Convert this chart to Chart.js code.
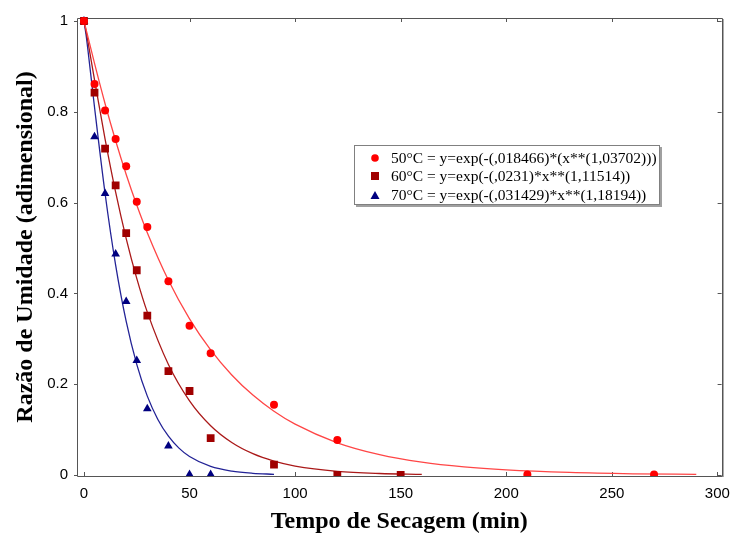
<!DOCTYPE html>
<html><head><meta charset="utf-8">
<script src="https://cdn.jsdelivr.net/npm/chart.js@4/dist/chart.umd.min.js"></script>
<style>
html,body{margin:0;padding:0;background:#fff;}
#wrap{position:relative;width:739px;height:536px;}
#legend{position:absolute;left:354px;top:145px;width:304px;height:58px;border:1px solid #808080;box-shadow:2px 2px 0 #a0a0a0;background:#fff;font-family:'Liberation Serif','Times New Roman',serif;font-size:15.5px;color:#000;}
.row{position:absolute;left:0;height:18px;line-height:18px;white-space:nowrap;}
.row svg{position:absolute;left:15px;top:4px;}
.row span{position:absolute;left:36px;top:0;}
</style></head>
<body>
<div id="wrap">
<canvas id="c" width="739" height="536"></canvas>
<div id="legend">
  <div class="row" style="top:3px"><svg width="10" height="10"><circle cx="5" cy="5" r="3.8" fill="#ff0000"/></svg><span>50°C = y=exp(-(,018466)*(x**(1,03702)))</span></div>
  <div class="row" style="top:21px"><svg width="10" height="10"><rect x="1" y="1" width="8" height="8" fill="#a00000"/></svg><span>60°C = y=exp(-(,0231)*x**(1,11514))</span></div>
  <div class="row" style="top:40px"><svg width="10" height="10"><polygon points="5,1 9.5,9 0.5,9" fill="#000080"/></svg><span>70°C = y=exp(-(,031429)*x**(1,18194))</span></div>
</div>
</div>
<script>
// Observed data (time in min, moisture ratio)
const t50 = [0,5,10,15,20,25,30,40,50,60,90,120,210,270];
const mr50 = [1,0.861,0.803,0.740,0.680,0.602,0.546,0.427,0.329,0.268,0.155,0.077,0.001,0.001];
const t60 = [0,5,10,15,20,25,30,40,50,60,90,120,150];
const mr60 = [1,0.842,0.719,0.638,0.533,0.451,0.351,0.229,0.185,0.081,0.023,0.0005,0.0005];
const t70 = [0,5,10,15,20,25,30,40,50,60];
const mr70 = [1,0.745,0.620,0.487,0.382,0.252,0.146,0.064,0.001,0.001];

// Fitted curves (sampled values)
const fitT50 = [0,1,2,5,10,15,20,25,30,40,50,60,70,80,90,100,120,140,160,180,200,230,260,290];
const fit50 = [1,0.9817,0.9628,0.9066,0.8178,0.7362,0.6619,0.5945,0.5335,0.4288,0.3440,0.2755,0.2203,0.1760,0.1404,0.1119,0.0710,0.0449,0.0283,0.0178,0.0112,0.0056,0.0027,0.0014];
const fitT60 = [0,1,2,5,10,15,20,25,30,40,50,60,70,80,90,100,120,140,160];
const fit60 = [1,0.9772,0.9512,0.8702,0.7400,0.6229,0.5208,0.4332,0.3587,0.2434,0.1633,0.1085,0.0716,0.0469,0.0305,0.0197,0.0081,0.0033,0.0013];
const fitT70 = [0,1,2,5,10,15,20,25,30,35,40,45,50,60,70,80,90];
const fit70 = [1,0.9691,0.9312,0.8101,0.6201,0.4623,0.3382,0.2438,0.1737,0.1224,0.0855,0.0592,0.0407,0.0188,0.0085,0.0038,0.0016];

// Ticks
const xTicks = [0,50,100,150,200,250,300];
const xTickLabels = ['0','50','100','150','200','250','300'];
const yTicks = [0,0.2,0.4,0.6,0.8,1];
const yTickLabels = ['0','0.2','0.4','0.6','0.8','1'];

const pts = (xs, ys) => xs.map((x,i)=>({x:x, y:ys[i]}));

const frame = {
  id:'frame',
  beforeDatasetsDraw(chart){
    const {ctx, chartArea:a, scales:{x,y}} = chart;
    ctx.save();
    ctx.strokeStyle='#555'; ctx.lineWidth=1;
    ctx.beginPath();
    ctx.rect(Math.round(a.left)+0.5, Math.round(a.top)+0.5, Math.round(a.right-a.left), Math.round(a.bottom-a.top));
    xTicks.forEach(v=>{
      const px=Math.round(x.getPixelForValue(v))+0.5;
      ctx.moveTo(px,a.bottom); ctx.lineTo(px,a.bottom-4);
      ctx.moveTo(px,a.top); ctx.lineTo(px,a.top+4);
    });
    yTicks.forEach(v=>{
      const py=Math.round(y.getPixelForValue(v))+0.5;
      ctx.moveTo(a.left-3,py); ctx.lineTo(a.left,py);
      ctx.moveTo(a.right,py); ctx.lineTo(a.right-4,py);
    });
    ctx.stroke();
    ctx.strokeStyle='#aaa';
    ctx.beginPath();
    ctx.moveTo(Math.round(a.right)+1.5, a.top+1); ctx.lineTo(Math.round(a.right)+1.5, a.bottom+1);
    ctx.stroke();
    ctx.restore();
  }
};

const lineDs = (xs, ys, color) => ({
  type:'line', data: pts(xs, ys), borderColor: color, borderWidth: 1.3,
  pointRadius: 0, fill:false, cubicInterpolationMode:'monotone', order: 2
});
const ptDs = (xs, ys, color, style, r) => ({
  type:'scatter', data: pts(xs, ys), backgroundColor: color, borderColor: color,
  borderWidth: 0, pointStyle: style, pointRadius: r, order: 1, clip: {left: 8, top: 2, right: 0, bottom: 0}
});

new Chart(document.getElementById('c'), {
  data: {
    datasets: [
      ptDs(t50, mr50, '#ff0000', 'circle', 4),
      ptDs(t60, mr60, '#a00000', 'rect', 5.5),
      ptDs(t70, mr70, '#000080', 'triangle', 5),
      lineDs(fitT50, fit50, 'rgb(255,70,70)'),
      lineDs(fitT60, fit60, 'rgb(170,25,25)'),
      lineDs(fitT70, fit70, 'rgb(35,35,150)')
    ]
  },
  options: {
    responsive: false,
    animation: false,
    layout: { padding: { top: 16, right: 15, left: 0, bottom: 0 } },
    plugins: { legend: { display: false }, tooltip: { enabled: false } },
    scales: {
      x: {
        type: 'linear', min: -3.3, max: 302,
        afterBuildTicks: s => { s.ticks = xTicks.map(v=>({value:v})); },
        afterFit: s => { s.height = 60; },
        grid: { display: false, drawTicks: false },
        border: { display: false },
        ticks: { padding: 9, color:'#000', font: { family: "'Liberation Sans', Arial, sans-serif", size: 15 },
          callback: (v) => { const i = xTicks.indexOf(v); return i >= 0 ? xTickLabels[i] : ''; } },
        title: { display: true, text: 'Tempo de Secagem (min)', color:'#000',
          font: { family: "'Liberation Serif', 'Times New Roman', serif", size: 24, weight: 'bold' },
          padding: { top: 3, bottom: 0 } }
      },
      y: {
        type: 'linear', min: -0.0022, max: 1.0066,
        afterBuildTicks: s => { s.ticks = yTicks.map(v=>({value:v})); },
        afterFit: s => { s.width = 77; },
        grid: { display: false, drawTicks: false },
        border: { display: false },
        ticks: { padding: 9, color:'#000', font: { family: "'Liberation Sans', Arial, sans-serif", size: 15 },
          callback: (v) => { const i = yTicks.indexOf(v); return i >= 0 ? yTickLabels[i] : ''; } },
        title: { display: true, text: 'Razão de Umidade (adimensional)', color:'#000',
          font: { family: "'Liberation Serif', 'Times New Roman', serif", size: 24, weight: 'bold' },
          padding: { top: 11, bottom: 0 } }
      }
    }
  },
  plugins: [frame]
});
</script>
</body></html>
